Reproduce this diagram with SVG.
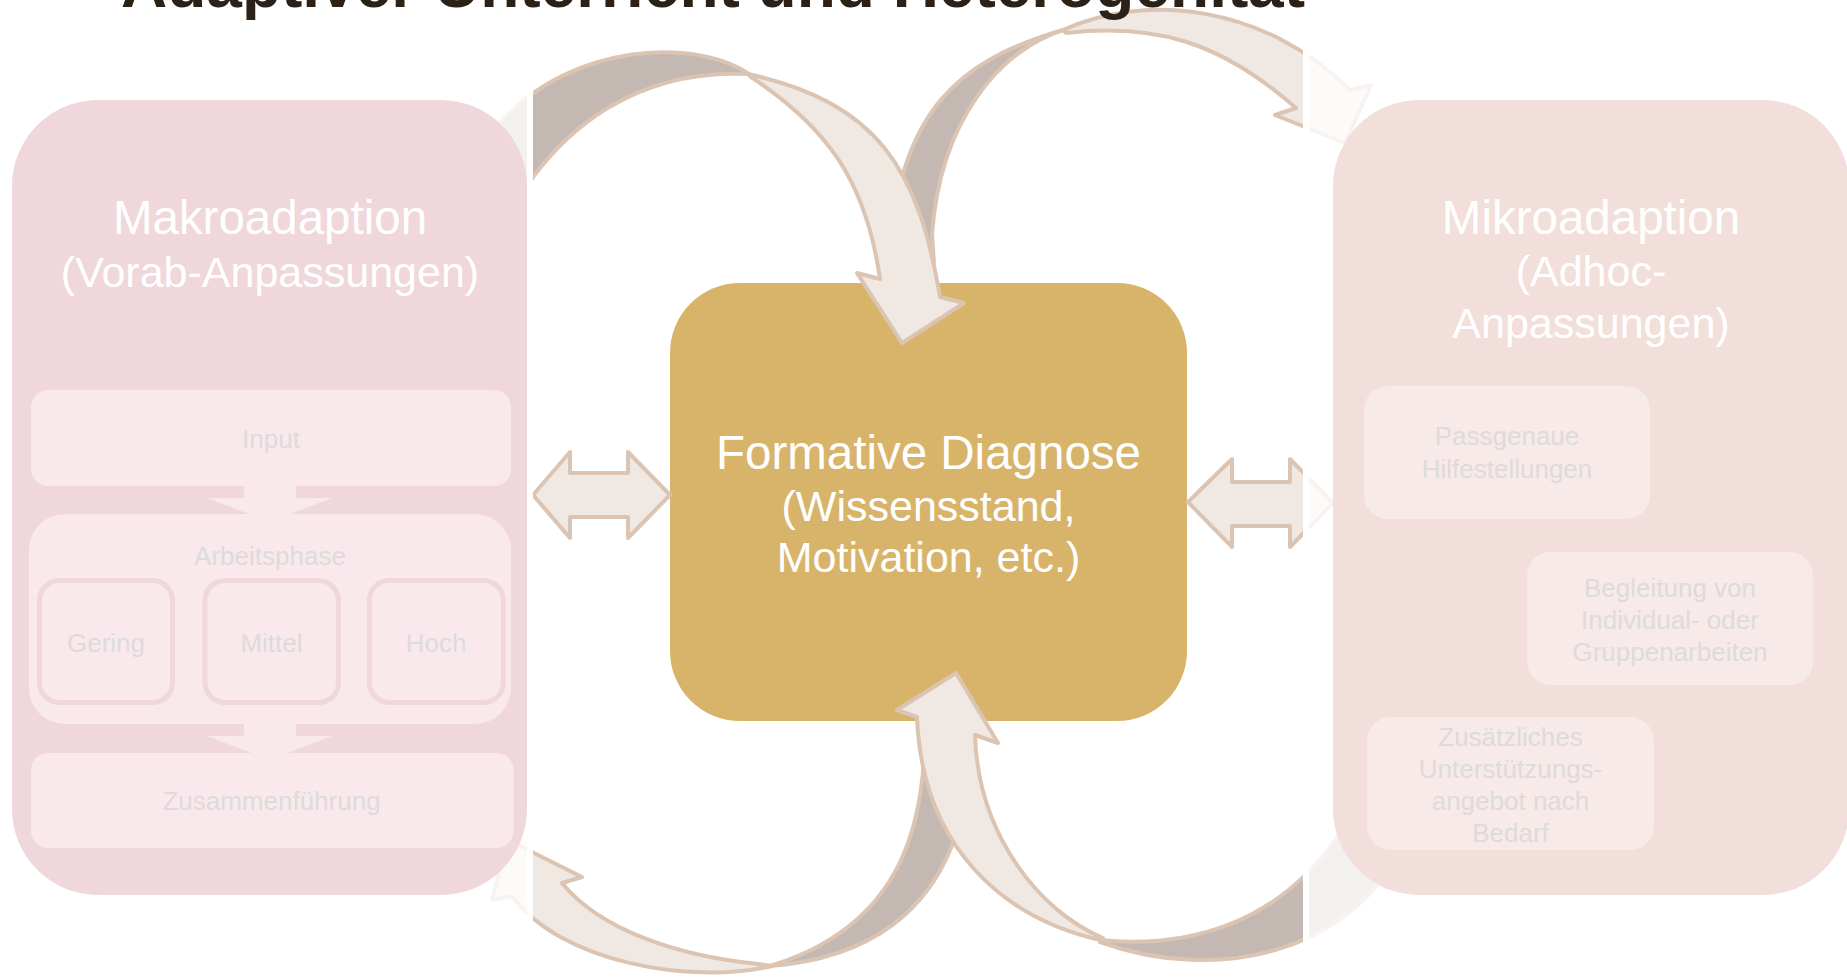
<svg xmlns="http://www.w3.org/2000/svg" width="1847" height="979" viewBox="0 0 1847 979">
  <style>
    text { font-family: "Liberation Sans", Arial, sans-serif; }
    .title { font-size: 64px; font-weight: bold; fill: #2B2117; }
    .head { font-size: 47.5px; fill: #FFFFFF; text-anchor: middle; }
    .sub { font-size: 43px; fill: #FFFFFF; text-anchor: middle; }
    .item { font-size: 26px; fill: #DDDBDB; text-anchor: middle; }
    .band { fill: #C3B9B2; stroke: #DCC4B2; stroke-width: 4; stroke-linejoin: round; }
    .face { fill: #F0E8E2; stroke: #DCC4B2; stroke-width: 4; stroke-linejoin: round; }
    .makro { fill: #EFD7DB; }
    .makro-in { fill: #F9E9EC; }
    .level { fill: #F9E9EC; stroke: #EFD7DB; stroke-width: 5; }
    .mikro { fill: #F2DFDB; }
    .mikro-in { fill: #F7EAE8; }
    .veil { fill: #FFFFFF; opacity: 0.8; }
    .edge { fill: #FFFFFF; }
  </style>

  <rect x="0" y="0" width="1847" height="979" fill="#FFFFFF"/>

  <!-- centre: formative diagnosis -->
  <g id="formative-diagnose">
    <rect x="670" y="283" width="517" height="438" rx="70" fill="#D8B46A"/>
    <text class="head" x="928.5" y="469">Formative Diagnose</text>
    <text class="sub" x="928.5" y="521">(Wissensstand,</text>
    <text class="sub" x="928.5" y="572">Motivation, etc.)</text>
  </g>

  <!-- curved ribbon arrows and double arrows -->
  <g id="connectors">
    <!-- back sides of the ribbons -->
    <path class="band" d="M460,190 C510,50 680,28 749,74 C629,68 563,137 533,177 L505,235 Z"/>
    <path class="band" d="M888,262 C900,110 957,61 1063,30 C1000,50 940,120 932,235 L934,262 Z"/>
    <path class="band" d="M925,722 C926,820 905,925 770,966 C850,960 950,925 968,780 L968,722 Z"/>
    <path class="band" d="M1100,940 C1180,948 1280,930 1345,825 L1400,850 C1350,950 1220,985 1100,942 Z"/>
    <!-- front sides with arrowheads -->
    <path class="face" d="M748,74 C878,102.6 918.4,168.8 940,297 L964,303 L902,343 L857,273 L880,279 C865.9,180 826,126.5 751,77 Z"/>
    <path class="face" d="M1063,30 C1145,-8 1265,5 1350,90 L1371,85 L1345,143 L1275,115 L1296,108 C1221,42 1156,23 1066,33 Z"/>
    <path class="face" d="M772,966 C690,985 560,962 512,896 L492,900 L508,840 L582,877 L562,883 C600,930 678,956 758,964 Z"/>
    <path class="face" d="M1100,940 C1003,918 922,847 917,717 L897,710 L956,673 L998,743 L975,735 C978,835 1040,912 1103,938 Z"/>
    <!-- double arrows -->
    <polygon class="face" points="533,495 570,452 570,473 628,473 628,452 670,495 628,538 628,517 570,517 570,538"/>
    <polygon class="face" points="1188,502 1232,459 1232,482 1290,482 1290,459 1333,503 1290,547 1290,526 1232,526 1232,547"/>
  </g>

  <!-- pale veil over the outer columns -->
  <g id="veil">
    <rect class="veil" x="0" y="0" width="527" height="979"/>
    <rect class="edge" x="527" y="0" width="6" height="979"/>
    <rect class="veil" x="1309" y="0" width="538" height="979"/>
    <rect class="edge" x="1303" y="0" width="6" height="979"/>
  </g>

  <!-- left column: macro adaptation -->
  <g id="makroadaption">
    <rect class="makro" x="12" y="100" width="515" height="795" rx="86"/>
    <text class="head" x="270" y="234">Makroadaption</text>
    <text class="sub" x="270" y="286.5">(Vorab-Anpassungen)</text>
    <polygon class="makro-in" points="244,485 296,485 296,498 332,498 270,522 207,498 244,498"/>
    <polygon class="makro-in" points="244,723 296,723 296,736 332,736 270,760 207,736 244,736"/>
    <g id="input">
      <rect class="makro-in" x="31" y="390" width="480" height="96" rx="17"/>
      <text class="item" x="271" y="448">Input</text>
    </g>
    <g id="arbeitsphase">
      <rect class="makro-in" x="29" y="514" width="482" height="210" rx="36"/>
      <text class="item" x="270" y="565">Arbeitsphase</text>
      <g id="gering">
        <rect class="level" x="39.5" y="580.5" width="133" height="122" rx="20"/>
        <text class="item" x="106" y="652">Gering</text>
      </g>
      <g id="mittel">
        <rect class="level" x="205" y="580.5" width="133.5" height="122" rx="20"/>
        <text class="item" x="271.5" y="652">Mittel</text>
      </g>
      <g id="hoch">
        <rect class="level" x="369.3" y="580.5" width="134" height="122" rx="20"/>
        <text class="item" x="436" y="652">Hoch</text>
      </g>
    </g>
    <g id="zusammenfuehrung">
      <rect class="makro-in" x="31" y="753" width="482.5" height="95" rx="17"/>
      <text class="item" x="271.5" y="810">Zusammenführung</text>
    </g>
  </g>

  <!-- right column: micro adaptation -->
  <g id="mikroadaption">
    <rect class="mikro" x="1333" y="100" width="516" height="795" rx="86"/>
    <text class="head" x="1591" y="234">Mikroadaption</text>
    <text class="sub" x="1591" y="286">(Adhoc-</text>
    <text class="sub" x="1591" y="338">Anpassungen)</text>
    <g id="hilfestellungen">
      <rect class="mikro-in" x="1364" y="386" width="286" height="133" rx="24"/>
      <text class="item" x="1507" y="445">Passgenaue</text>
      <text class="item" x="1507" y="478">Hilfestellungen</text>
    </g>
    <g id="begleitung">
      <rect class="mikro-in" x="1527" y="552" width="286" height="133" rx="24"/>
      <text class="item" x="1670" y="597">Begleitung von</text>
      <text class="item" x="1670" y="629">Individual- oder</text>
      <text class="item" x="1670" y="661">Gruppenarbeiten</text>
    </g>
    <g id="unterstuetzung">
      <rect class="mikro-in" x="1367" y="717" width="287" height="133" rx="24"/>
      <text class="item" x="1510.5" y="746">Zusätzliches</text>
      <text class="item" x="1510.5" y="778">Unterstützungs-</text>
      <text class="item" x="1510.5" y="810">angebot nach</text>
      <text class="item" x="1510.5" y="842">Bedarf</text>
    </g>
  </g>

  <text id="title" class="title" x="121" y="7">Adaptiver Unterricht und Heterogenität</text>
</svg>
